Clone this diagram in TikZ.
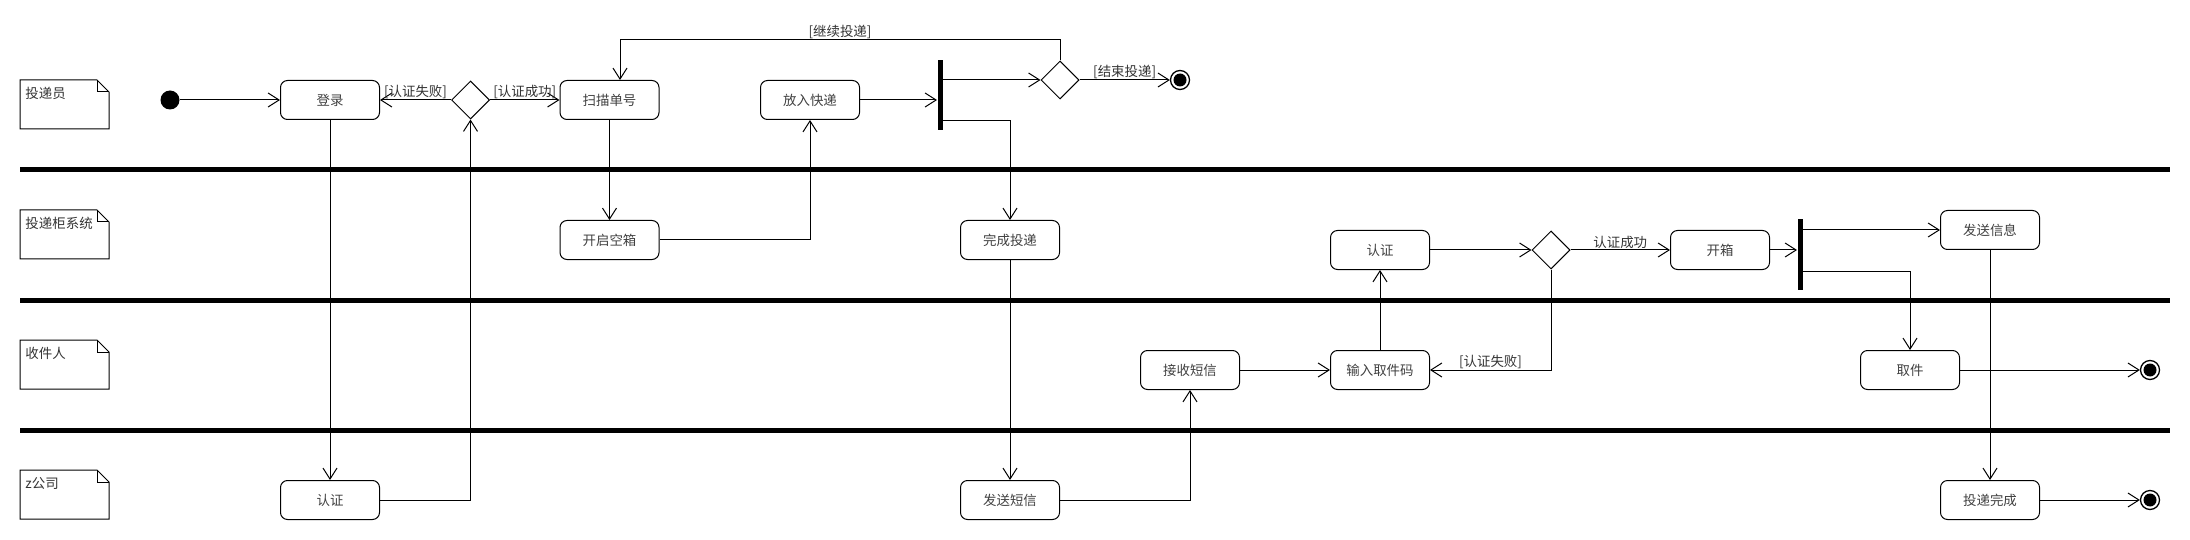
\documentclass[tikz,border=0pt]{standalone}
\usepackage{fontspec}
\setmainfont{Noto Sans CJK SC}
\usetikzlibrary{
    arrows.meta,
    shapes.geometric,
    calc,
    positioning
}
\tikzset{act/.style={draw=black, rounded corners=7bp, minimum width=99bp, minimum height=39bp, inner sep=0pt, text=black!75, font=\fontsize{13.5}{15}\selectfont}}
\tikzset{branch/.style={draw=black, diamond, minimum width=38bp, minimum height=38bp, inner sep=0pt}}
\tikzset{bar/.style={fill=black, minimum width=5bp, minimum height=70bp, inner sep=0pt}}
\tikzset{startnode/.style={circle, fill=black, minimum size=19bp, inner sep=0pt}}
\tikzset{endnode/.style={circle, draw=black, line width=1.3bp, minimum size=19bp, inner sep=0pt, path picture={\fill[black] (path picture bounding box.center) circle (6.5bp);}}}
\tikzset{guard/.style={text=black!80, font=\fontsize{13.5}{15}\selectfont, inner sep=1pt}}
\tikzset{lanename/.style={anchor=west, inner sep=1pt, text=black!80, font=\fontsize{13.5}{15}\selectfont}}
\tikzset{lanesep/.style={line width=5bp}}

% note with folded corner, top edge at #2
\newcommand{\lanenote}[3]{
    \draw (20, #2) -- (97, #2) -- (109, #2+12) -- (109, #2+49) -- (20, #2+49) -- cycle;
    \draw (97, #2) -- (97, #2+12) -- (109, #2+12);
    \node[lanename] (#1) at (24, #2+13) {#3};
}

\begin{document}
\begin{tikzpicture}[x=1bp, y=-1bp, line width=1bp, >={Straight Barb[length=11bp, width=14bp]}]
    \useasboundingbox (0, 0) rectangle (2190, 540);

    % lanes
    \lanenote{courier}{80}{投递员}
    \lanenote{locker}{210}{投递柜系统}
    \lanenote{receiver}{340}{收件人}
    \lanenote{company}{470}{z公司}

    \draw[lanesep] (20, 170) -- (2170, 170);
    \draw[lanesep] (20, 300) -- (2170, 300);
    \draw[lanesep] (20, 430) -- (2170, 430);

    % courier
    \node[startnode] (start) at (170, 100) {};
    \node[act] (login) at (330, 100) {登录};
    \node[branch] (d1) at (470.5, 100) {};
    \node[act] (scan) at (609.5, 100) {扫描单号};
    \node[act] (putin) at (810, 100) {放入快递};
    \node[bar] (fork1) at (940, 95) {};
    \node[branch] (d2) at (1060, 80) {};
    \node[endnode] (end1) at (1180, 80) {};
    \coordinate (loopin) at (620, 40);

    % locker system
    \node[act] (openempty) at (609.5, 240) {开启空箱};
    \node[act] (done) at (1010, 240) {完成投递};
    \node[act] (verify2) at (1380, 250) {认证};
    \node[branch] (d3) at (1551, 250) {};
    \node[act] (openbox) at (1720, 250) {开箱};
    \node[bar] (fork2) at (1800, 254.5) {};
    \node[act] (sendinfo) at (1990, 230) {发送信息};

    % receiver
    \node[act] (getsms) at (1190, 370) {接收短信};
    \node[act] (inputcode) at (1380, 370) {输入取件码};
    \node[act] (pickup) at (1910, 370) {取件};
    \node[endnode] (end2) at (2150, 370) {};

    % company
    \node[act] (verify1) at (330, 500) {认证};
    \node[act] (sendsms) at (1010, 500) {发送短信};
    \node[act] (finish) at (1990, 500) {投递完成};
    \node[endnode] (end3) at (2150, 500) {};

    \draw[->] (start) -- (login);
    \draw[->] (login) -- (verify1);
    \draw[->] (verify1) -| (d1);
    \draw[->] (d1) -- node[guard, above] {[认证失败]} (login);
    \draw[->] (d1) -- node[guard, above] {[认证成功]} (scan);
    \draw[->] (scan) -- (openempty);
    \draw[->] (openempty) -| (putin);
    \draw[->] (putin) -- (putin -| fork1.west);
    \draw[->] (fork1.east |- d2) -- (d2);
    \draw[->] ($(fork1.south east)+(0, -10)$) -| (done);
    \draw[->] (d2) -- node[guard, above] {[结束投递]} (end1);
    \draw[->] (d2) |- node[guard, pos=0.75, above] {[继续投递]} (loopin) -- (loopin |- scan.north);

    \draw[->] (done) -- (sendsms);
    \draw[->] (sendsms) -| (getsms);
    \draw[->] (getsms) -- (inputcode);
    \draw[->] (inputcode) -- (verify2);
    \draw[->] (verify2) -- (d3);
    \draw[->] (d3) -- node[guard, above] {认证成功} (openbox);
    \draw[->] (d3) |- node[guard, pos=0.75, above] {[认证失败]} (inputcode);
    \draw[->] (openbox) -- (openbox -| fork2.west);
    \draw[->] (fork2.east |- sendinfo) -- (sendinfo);
    \draw[->] ($(fork2.south east)+(0, -19)$) -| (pickup);
    \draw[->] (sendinfo) -- (finish);
    \draw[->] (pickup) -- (end2);
    \draw[->] (finish) -- (end3);
\end{tikzpicture}
\end{document}
